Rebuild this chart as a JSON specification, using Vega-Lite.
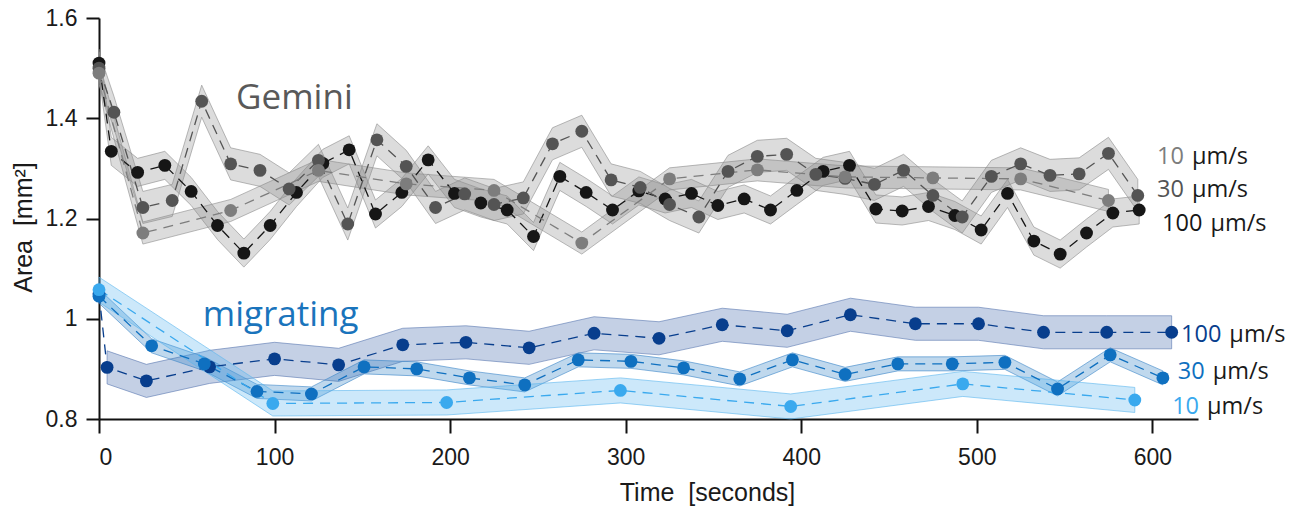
{
  "$schema": "https://vega.github.io/schema/vega-lite/v6.json",
  "width": 1099,
  "height": 401,
  "autosize": {"type": "none"},
  "padding": {"left": 99, "top": 18, "right": 102, "bottom": 88},
  "background": "white",
  "config": {"view": {"stroke": null}, "font": "Liberation Sans"},
  "datasets": {
    "series": [
      {"s":"G100","t":0,"v":1.51,"lo":1.482,"hi":1.538},
      {"s":"G100","t":7,"v":1.334,"lo":1.306,"hi":1.362},
      {"s":"G100","t":22,"v":1.292,"lo":1.264,"hi":1.32},
      {"s":"G100","t":37.5,"v":1.306,"lo":1.278,"hi":1.334},
      {"s":"G100","t":52.5,"v":1.254,"lo":1.226,"hi":1.282},
      {"s":"G100","t":67.5,"v":1.186,"lo":1.158,"hi":1.214},
      {"s":"G100","t":82.5,"v":1.131,"lo":1.103,"hi":1.159},
      {"s":"G100","t":97.5,"v":1.186,"lo":1.158,"hi":1.214},
      {"s":"G100","t":112.5,"v":1.252,"lo":1.224,"hi":1.28},
      {"s":"G100","t":127.5,"v":1.31,"lo":1.282,"hi":1.338},
      {"s":"G100","t":142.5,"v":1.337,"lo":1.309,"hi":1.365},
      {"s":"G100","t":157.5,"v":1.209,"lo":1.181,"hi":1.237},
      {"s":"G100","t":172.5,"v":1.252,"lo":1.224,"hi":1.28},
      {"s":"G100","t":187.5,"v":1.317,"lo":1.289,"hi":1.345},
      {"s":"G100","t":202.5,"v":1.25,"lo":1.222,"hi":1.278},
      {"s":"G100","t":217.5,"v":1.231,"lo":1.203,"hi":1.259},
      {"s":"G100","t":232.5,"v":1.217,"lo":1.189,"hi":1.245},
      {"s":"G100","t":247.5,"v":1.164,"lo":1.136,"hi":1.192},
      {"s":"G100","t":262.5,"v":1.284,"lo":1.256,"hi":1.312},
      {"s":"G100","t":277.5,"v":1.252,"lo":1.224,"hi":1.28},
      {"s":"G100","t":292.5,"v":1.217,"lo":1.189,"hi":1.245},
      {"s":"G100","t":307.5,"v":1.255,"lo":1.227,"hi":1.283},
      {"s":"G100","t":322.5,"v":1.239,"lo":1.211,"hi":1.267},
      {"s":"G100","t":337.5,"v":1.25,"lo":1.222,"hi":1.278},
      {"s":"G100","t":352.5,"v":1.226,"lo":1.198,"hi":1.254},
      {"s":"G100","t":367.5,"v":1.239,"lo":1.211,"hi":1.267},
      {"s":"G100","t":382.5,"v":1.217,"lo":1.189,"hi":1.245},
      {"s":"G100","t":397.5,"v":1.256,"lo":1.228,"hi":1.284},
      {"s":"G100","t":412.5,"v":1.294,"lo":1.266,"hi":1.322},
      {"s":"G100","t":427.5,"v":1.306,"lo":1.278,"hi":1.334},
      {"s":"G100","t":442.5,"v":1.219,"lo":1.191,"hi":1.247},
      {"s":"G100","t":457.5,"v":1.215,"lo":1.187,"hi":1.243},
      {"s":"G100","t":472.5,"v":1.224,"lo":1.196,"hi":1.252},
      {"s":"G100","t":487.5,"v":1.206,"lo":1.178,"hi":1.234},
      {"s":"G100","t":502.5,"v":1.177,"lo":1.149,"hi":1.205},
      {"s":"G100","t":517.5,"v":1.25,"lo":1.222,"hi":1.278},
      {"s":"G100","t":532.5,"v":1.155,"lo":1.127,"hi":1.183},
      {"s":"G100","t":547.5,"v":1.129,"lo":1.101,"hi":1.157},
      {"s":"G100","t":562.5,"v":1.171,"lo":1.143,"hi":1.199},
      {"s":"G100","t":577.5,"v":1.211,"lo":1.183,"hi":1.239},
      {"s":"G100","t":592.5,"v":1.217,"lo":1.189,"hi":1.245},

      {"s":"G30","t":0,"v":1.5,"lo":1.468,"hi":1.532},
      {"s":"G30","t":8.5,"v":1.412,"lo":1.38,"hi":1.444},
      {"s":"G30","t":25,"v":1.222,"lo":1.19,"hi":1.254},
      {"s":"G30","t":41.7,"v":1.236,"lo":1.204,"hi":1.268},
      {"s":"G30","t":58.5,"v":1.434,"lo":1.402,"hi":1.466},
      {"s":"G30","t":75,"v":1.309,"lo":1.277,"hi":1.341},
      {"s":"G30","t":91.7,"v":1.296,"lo":1.264,"hi":1.328},
      {"s":"G30","t":108.3,"v":1.259,"lo":1.227,"hi":1.291},
      {"s":"G30","t":125,"v":1.316,"lo":1.284,"hi":1.348},
      {"s":"G30","t":141.7,"v":1.189,"lo":1.157,"hi":1.221},
      {"s":"G30","t":158.3,"v":1.357,"lo":1.325,"hi":1.389},
      {"s":"G30","t":175,"v":1.304,"lo":1.272,"hi":1.336},
      {"s":"G30","t":191.7,"v":1.222,"lo":1.19,"hi":1.254},
      {"s":"G30","t":208.3,"v":1.249,"lo":1.217,"hi":1.281},
      {"s":"G30","t":225,"v":1.228,"lo":1.196,"hi":1.26},
      {"s":"G30","t":241.7,"v":1.241,"lo":1.209,"hi":1.273},
      {"s":"G30","t":258.3,"v":1.349,"lo":1.317,"hi":1.381},
      {"s":"G30","t":275,"v":1.374,"lo":1.342,"hi":1.406},
      {"s":"G30","t":291.7,"v":1.277,"lo":1.245,"hi":1.309},
      {"s":"G30","t":308.3,"v":1.262,"lo":1.23,"hi":1.294},
      {"s":"G30","t":325,"v":1.228,"lo":1.196,"hi":1.26},
      {"s":"G30","t":341.7,"v":1.203,"lo":1.171,"hi":1.235},
      {"s":"G30","t":358.3,"v":1.294,"lo":1.262,"hi":1.326},
      {"s":"G30","t":375,"v":1.324,"lo":1.292,"hi":1.356},
      {"s":"G30","t":391.7,"v":1.328,"lo":1.296,"hi":1.36},
      {"s":"G30","t":408.3,"v":1.288,"lo":1.256,"hi":1.32},
      {"s":"G30","t":425,"v":1.28,"lo":1.248,"hi":1.312},
      {"s":"G30","t":441.7,"v":1.268,"lo":1.236,"hi":1.3},
      {"s":"G30","t":458.3,"v":1.296,"lo":1.264,"hi":1.328},
      {"s":"G30","t":475,"v":1.246,"lo":1.214,"hi":1.278},
      {"s":"G30","t":491.7,"v":1.203,"lo":1.171,"hi":1.235},
      {"s":"G30","t":508.3,"v":1.284,"lo":1.252,"hi":1.316},
      {"s":"G30","t":525,"v":1.309,"lo":1.277,"hi":1.341},
      {"s":"G30","t":541.7,"v":1.286,"lo":1.254,"hi":1.318},
      {"s":"G30","t":558.3,"v":1.289,"lo":1.257,"hi":1.321},
      {"s":"G30","t":575,"v":1.33,"lo":1.298,"hi":1.362},
      {"s":"G30","t":591.7,"v":1.246,"lo":1.214,"hi":1.278},

      {"s":"G10","t":0,"v":1.49,"lo":1.468,"hi":1.512},
      {"s":"G10","t":25,"v":1.171,"lo":1.149,"hi":1.193},
      {"s":"G10","t":75,"v":1.216,"lo":1.194,"hi":1.238},
      {"s":"G10","t":125,"v":1.296,"lo":1.274,"hi":1.318},
      {"s":"G10","t":175,"v":1.269,"lo":1.247,"hi":1.291},
      {"s":"G10","t":225,"v":1.256,"lo":1.234,"hi":1.278},
      {"s":"G10","t":275,"v":1.151,"lo":1.129,"hi":1.173},
      {"s":"G10","t":325,"v":1.279,"lo":1.257,"hi":1.301},
      {"s":"G10","t":375,"v":1.297,"lo":1.275,"hi":1.319},
      {"s":"G10","t":425,"v":1.283,"lo":1.261,"hi":1.305},
      {"s":"G10","t":475,"v":1.281,"lo":1.259,"hi":1.303},
      {"s":"G10","t":525,"v":1.279,"lo":1.257,"hi":1.301},
      {"s":"G10","t":575,"v":1.236,"lo":1.214,"hi":1.258},

      {"s":"M100","t":0,"v":1.05,"lo":null,"hi":null},
      {"s":"M100","t":4.6,"v":0.903,"lo":0.87,"hi":0.936},
      {"s":"M100","t":27,"v":0.876,"lo":0.843,"hi":0.909},
      {"s":"M100","t":63,"v":0.904,"lo":0.871,"hi":0.937},
      {"s":"M100","t":100,"v":0.92,"lo":0.887,"hi":0.953},
      {"s":"M100","t":136.5,"v":0.908,"lo":0.875,"hi":0.941},
      {"s":"M100","t":173,"v":0.948,"lo":0.915,"hi":0.981},
      {"s":"M100","t":209,"v":0.953,"lo":0.92,"hi":0.986},
      {"s":"M100","t":245,"v":0.942,"lo":0.909,"hi":0.975},
      {"s":"M100","t":282,"v":0.971,"lo":0.938,"hi":1.004},
      {"s":"M100","t":319,"v":0.961,"lo":0.928,"hi":0.994},
      {"s":"M100","t":355,"v":0.988,"lo":0.955,"hi":1.021},
      {"s":"M100","t":392,"v":0.976,"lo":0.943,"hi":1.009},
      {"s":"M100","t":428,"v":1.008,"lo":0.975,"hi":1.041},
      {"s":"M100","t":465,"v":0.99,"lo":0.957,"hi":1.023},
      {"s":"M100","t":501,"v":0.99,"lo":0.957,"hi":1.023},
      {"s":"M100","t":538,"v":0.973,"lo":0.94,"hi":1.006},
      {"s":"M100","t":574,"v":0.973,"lo":0.94,"hi":1.006},
      {"s":"M100","t":611,"v":0.973,"lo":0.94,"hi":1.006},

      {"s":"M30","t":0,"v":1.045,"lo":1.031,"hi":1.059},
      {"s":"M30","t":30,"v":0.946,"lo":0.932,"hi":0.96},
      {"s":"M30","t":60,"v":0.91,"lo":0.896,"hi":0.924},
      {"s":"M30","t":90,"v":0.855,"lo":0.841,"hi":0.869},
      {"s":"M30","t":121,"v":0.85,"lo":0.836,"hi":0.864},
      {"s":"M30","t":151,"v":0.904,"lo":0.89,"hi":0.918},
      {"s":"M30","t":181,"v":0.9,"lo":0.886,"hi":0.914},
      {"s":"M30","t":211,"v":0.882,"lo":0.868,"hi":0.896},
      {"s":"M30","t":242.5,"v":0.868,"lo":0.854,"hi":0.882},
      {"s":"M30","t":273,"v":0.918,"lo":0.904,"hi":0.932},
      {"s":"M30","t":303,"v":0.915,"lo":0.901,"hi":0.929},
      {"s":"M30","t":333,"v":0.902,"lo":0.888,"hi":0.916},
      {"s":"M30","t":365,"v":0.88,"lo":0.866,"hi":0.894},
      {"s":"M30","t":395,"v":0.918,"lo":0.904,"hi":0.932},
      {"s":"M30","t":425,"v":0.889,"lo":0.875,"hi":0.903},
      {"s":"M30","t":455,"v":0.91,"lo":0.896,"hi":0.924},
      {"s":"M30","t":486,"v":0.91,"lo":0.896,"hi":0.924},
      {"s":"M30","t":516,"v":0.913,"lo":0.899,"hi":0.927},
      {"s":"M30","t":546,"v":0.86,"lo":0.846,"hi":0.874},
      {"s":"M30","t":576,"v":0.928,"lo":0.914,"hi":0.942},
      {"s":"M30","t":606,"v":0.882,"lo":0.868,"hi":0.896},

      {"s":"M10","t":0,"v":1.058,"lo":1.033,"hi":1.083},
      {"s":"M10","t":99,"v":0.831,"lo":0.806,"hi":0.856},
      {"s":"M10","t":198,"v":0.833,"lo":0.808,"hi":0.858},
      {"s":"M10","t":297,"v":0.857,"lo":0.832,"hi":0.882},
      {"s":"M10","t":394,"v":0.825,"lo":0.8,"hi":0.85},
      {"s":"M10","t":492,"v":0.87,"lo":0.845,"hi":0.895},
      {"s":"M10","t":590,"v":0.838,"lo":0.813,"hi":0.863}
    ],
    "labels": [
      {"s":"G10","num":"10","t":618,"v":1.309},
      {"s":"G30","num":"30","t":618,"v":1.2425},
      {"s":"G100","num":"100","t":628.5,"v":1.1757},
      {"s":"M100","num":"100","t":639.3,"v":0.953},
      {"s":"M30","num":"30","t":629.8,"v":0.88},
      {"s":"M10","num":"10","t":626.6,"v":0.81}
    ]
  },
  "encoding": {
    "x": {
      "field": "t", "type": "quantitative",
      "scale": {"domain": [0, 626], "nice": false, "zero": false},
      "axis": {
        "values": [0, 100, 200, 300, 400, 500, 600], "format": "d", "grid": false,
        "labelFont": "Liberation Sans", "labelFontSize": 23, "labelColor": "#1a1a1a", "labelPadding": 13,
        "tickSize": 14, "tickWidth": 2, "tickColor": "#111", "domainColor": "#111", "domainWidth": 2,
        "title": "Time \u00a0[seconds]", "titleFont": "Liberation Sans", "titleFontSize": 25, "titleFontWeight": "normal",
        "titleColor": "#1a1a1a", "titleX": 608, "titleY": 81, "titleAlign": "center", "titleBaseline": "alphabetic"
      }
    },
    "y": {
      "field": "v", "type": "quantitative",
      "scale": {"domain": [0.8, 1.6], "nice": false, "zero": false},
      "axis": {
        "values": [0.8, 1, 1.2, 1.4, 1.6], "format": "~g", "grid": false,
        "labelFont": "Liberation Sans", "labelFontSize": 23, "labelColor": "#1a1a1a", "labelPadding": 9,
        "tickSize": 13, "tickWidth": 2, "tickColor": "#111", "domainColor": "#111", "domainWidth": 2,
        "title": "Area \u00a0[mm²]", "titleFont": "Liberation Sans", "titleFontSize": 25, "titleFontWeight": "normal",
        "titleColor": "#1a1a1a", "titleX": -67.6, "titleY": 209, "titleAngle": -90, "titleAlign": "center", "titleBaseline": "alphabetic"
      }
    }
  },
  "layer": [
    {
      "data": {"name": "series"},
      "transform": [{"filter": "isValid(datum.lo)"}],
      "mark": {"type": "area", "fillOpacity": 0.3, "strokeOpacity": 0.6, "strokeWidth": 1},
      "encoding": {
        "y": {"field": "lo", "type": "quantitative"},
        "y2": {"field": "hi"},
        "fill": {"field": "s", "type": "nominal", "legend": null,
          "scale": {"domain": ["G10","G30","G100","M10","M30","M100"], "range": ["#8a8a8a","#8a8a8a","#8a8a8a","#55b4ee","#2a7fc5","#3a62a8"]}},
        "stroke": {"field": "s", "type": "nominal", "legend": null,
          "scale": {"domain": ["G10","G30","G100","M10","M30","M100"], "range": ["#8c8c8c","#8c8c8c","#8c8c8c","#5ab6ee","#3a86c8","#5a78b0"]}}
      }
    },
    {
      "data": {"name": "series"},
      "mark": {"type": "line", "strokeDash": [10, 7], "strokeWidth": 1.3},
      "encoding": {
        "color": {"field": "s", "type": "nominal", "legend": null,
          "scale": {"domain": ["G10","G30","G100","M10","M30","M100"], "range": ["#7d7d7d","#545454","#161616","#3aa9ee","#0f70c0","#083e8d"]}}
      }
    },
    {
      "data": {"name": "series"},
      "mark": {"type": "circle", "size": 165, "opacity": 1},
      "encoding": {
        "color": {"field": "s", "type": "nominal", "legend": null}
      }
    },
    {
      "data": {"name": "labels"},
      "mark": {"type": "text", "align": "right", "baseline": "alphabetic", "font": "Open Sans", "fontSize": 23.5},
      "encoding": {
        "text": {"field": "num"},
        "color": {"field": "s", "type": "nominal", "legend": null}
      }
    },
    {
      "data": {"name": "labels"},
      "mark": {"type": "text", "align": "left", "baseline": "alphabetic", "font": "Open Sans", "fontSize": 23.5, "dx": 8, "color": "#1a1a1a"},
      "encoding": {
        "text": {"value": "µm/s"}
      }
    },
    {
      "data": {"values": [{"txt": "Gemini", "t": 111.3, "v": 1.419}]},
      "mark": {"type": "text", "align": "center", "baseline": "alphabetic", "font": "Open Sans", "fontSize": 35, "color": "#595959"},
      "encoding": {"text": {"field": "txt"}}
    },
    {
      "data": {"values": [{"txt": "migrating", "t": 103.5, "v": 0.986}]},
      "mark": {"type": "text", "align": "center", "baseline": "alphabetic", "font": "Open Sans", "fontSize": 35, "color": "#1a74bc"},
      "encoding": {"text": {"field": "txt"}}
    }
  ]
}
